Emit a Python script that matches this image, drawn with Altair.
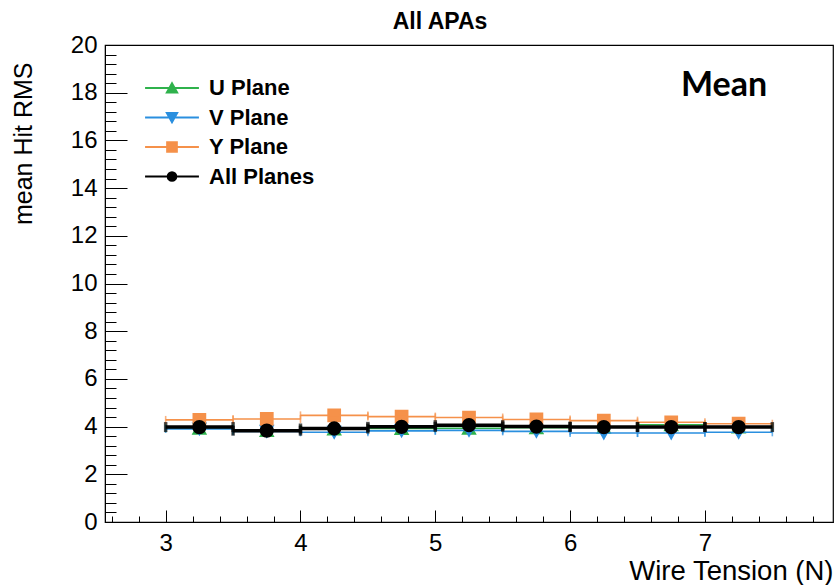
import altair as alt
import pandas as pd

# ---- data ----
tension = [3.25, 3.75, 4.25, 4.75, 5.25, 5.75, 6.25, 6.75, 7.25]
half_width = 0.25
u_plane = [3.93, 3.84, 3.90, 3.92, 3.93, 3.95, 3.97, 4.08, 3.98]
v_plane = [3.90, 3.80, 3.76, 3.82, 3.84, 3.80, 3.73, 3.73, 3.76]
y_plane = [4.28, 4.32, 4.47, 4.42, 4.38, 4.30, 4.25, 4.18, 4.12]
all_planes = [3.98, 3.83, 3.92, 3.99, 4.06, 4.00, 3.98, 3.98, 3.98]

series_names = ["U Plane", "V Plane", "Y Plane", "All Planes"]
series_values = [u_plane, v_plane, y_plane, all_planes]
series_colors = ["#2fb24c", "#2a8fdf", "#f5914a", "#000000"]
series_width = [1.6, 1.6, 1.6, 3.5]
# symbol = horizontal error bar (-1..1) plus the marker in the middle
series_paths = [
    "M-1,0H1M-0.19,0.17L0.19,0.17L0,-0.17Z",
    "M-1,0H1M-0.19,-0.17L0.19,-0.17L0,0.17Z",
    "M-1,0H1M-0.18,-0.18H0.18V0.18H-0.18Z",
    "M-1,0H1M0.16,0A0.16,0.16,0,1,1,-0.16,0A0.16,0.16,0,1,1,0.16,0Z",
]

x_major = [3, 4, 5, 6, 7]
x_minor = [round(2.6 + 0.2 * i, 2) for i in range(27)]
y_major = list(range(0, 21, 2))
y_minor = [round(0.4 * i, 2) for i in range(51)]

FONT = "Liberation Sans"
W, H = 728, 477
X_DOMAIN = [2.55, 7.95]
px_per_unit = W / (X_DOMAIN[1] - X_DOMAIN[0])
bar_size = (2 * half_width * px_per_unit) ** 2

xscale = alt.Scale(domain=X_DOMAIN, nice=False, zero=False)
yscale = alt.Scale(domain=[0, 20], nice=False, zero=False)
color_scale = alt.Scale(domain=series_names, range=series_colors)
shape_scale = alt.Scale(domain=series_names, range=series_paths)

legend = alt.Legend(
    title=None, orient="none", legendX=39, legendY=32, padding=0,
    symbolSize=2900, clipHeight=22, rowPadding=7.5,
    symbolStrokeWidth=2, symbolOpacity=1,
    labelFont=FONT, labelFontSize=22, labelFontWeight="bold",
    labelColor="black", labelOffset=9,
)

ax_x_labels = alt.Axis(
    orient="bottom", values=x_major, ticks=False, tickSize=0, domain=True,
    domainColor="black", labelPadding=9, labelFont=FONT, labelFontSize=24,
    labelColor="black", grid=False, labelFlush=False,
    title="Wire Tension (N)", titleFont=FONT, titleFontSize=27.5,
    titleFontWeight="normal", titleColor="black", titleAnchor="end",
    titleAlign="right", titleBaseline="alphabetic", titleX=W, titleY=57,
)
ax_y_labels = alt.Axis(
    orient="left", values=y_major, ticks=False, tickSize=0, domain=True,
    domainColor="black", labelPadding=8, labelFont=FONT, labelFontSize=24,
    labelColor="black", grid=False, labelFlush=False,
    title="mean Hit RMS", titleFont=FONT, titleFontSize=25,
    titleFontWeight="normal", titleColor="black", titleAnchor="end",
    titleAngle=270, titleAlign="right", titleBaseline="alphabetic",
    titleX=-74, titleY=17,
)
ax_x_major = alt.Axis(orient="bottom", values=x_major, labels=False, domain=False,
                      tickSize=12, offset=-12, tickColor="black", grid=False, title=None)
ax_y_major = alt.Axis(orient="left", values=y_major, labels=False, domain=False,
                      tickSize=22, offset=-22, tickColor="black", grid=False, title=None)
ax_x_minor = alt.Axis(orient="bottom", values=x_minor, labels=False, domain=False,
                      tickSize=6, offset=-6, tickColor="black", grid=False, title=None)
ax_y_minor = alt.Axis(orient="left", values=y_minor, labels=False, domain=False,
                      tickSize=11, offset=-11, tickColor="black", grid=False, title=None)

axes_plan = [(ax_x_labels, ax_y_labels), (ax_x_major, ax_y_major), (ax_x_minor, ax_y_minor)]


def axes_for(i):
    if i < len(axes_plan):
        return axes_plan[i]
    return (None, None)


layers = []
k = 0
for name, vals, col, lw in zip(series_names, series_values, series_colors, series_width):
    df = pd.DataFrame({
        "x": tension,
        "lo": [t - half_width for t in tension],
        "hi": [t + half_width for t in tension],
        "y": vals,
        "series": name,
    })

    ax, ay = axes_for(k); k += 1
    caps = alt.Chart(df).transform_fold(["lo", "hi"], as_=["end", "xe"]).mark_tick(
        orient="vertical", color=col, thickness=lw, size=10 if lw > 2 else 8
    ).encode(
        x=alt.X("xe:Q", scale=xscale, axis=ax),
        y=alt.Y("y:Q", scale=yscale, axis=ay),
    )
    ax, ay = axes_for(k); k += 1
    pts = alt.Chart(df).mark_point(filled=True, size=bar_size, opacity=1,
                                   strokeWidth=lw).encode(
        x=alt.X("x:Q", scale=xscale, axis=ax),
        y=alt.Y("y:Q", scale=yscale, axis=ay),
        color=alt.Color("series:N", scale=color_scale, legend=legend),
        stroke=alt.Stroke("series:N", scale=color_scale, legend=legend),
        shape=alt.Shape("series:N", scale=shape_scale, legend=legend),
    )
    layers += [caps, pts]

note = alt.Chart(pd.DataFrame({"label": ["Mean"]})).mark_text(
    font="Lato", fontWeight="bold", fontSize=34, color="black",
    align="center", baseline="alphabetic"
).encode(x=alt.value(619), y=alt.value(51), text="label:N")
layers.append(note)

chart = alt.layer(*layers).resolve_axis(x="independent", y="independent").properties(
    width=W, height=H,
    title=alt.Title("All APAs", font=FONT, fontSize=23, fontWeight="bold",
                    color="black", anchor="middle", dx=-29, dy=23, offset=4,
                    baseline="alphabetic"),
    autosize=alt.AutoSizeParams(type="none"),
    padding={"left": 105, "top": 45, "right": 2, "bottom": 63},
    background="white",
).configure_view(stroke="black", strokeWidth=1.2)

chart.save("out.html", embed_options={"renderer": "svg", "actions": False})
